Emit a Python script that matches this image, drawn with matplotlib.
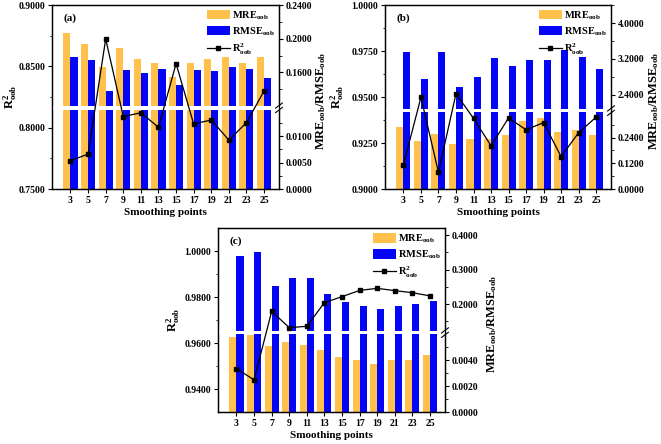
import numpy as np
import matplotlib
matplotlib.use("Agg")
import matplotlib.pyplot as plt
from matplotlib.ticker import FixedLocator, FormatStrFormatter

plt.rcParams['font.family'] = ['Liberation Serif', 'DejaVu Serif']
plt.rcParams['font.weight'] = 'bold'
plt.rcParams['mathtext.fontset'] = 'custom'
plt.rcParams['mathtext.rm'] = 'Liberation Serif:bold'
plt.rcParams['mathtext.it'] = 'Liberation Serif:bold'
plt.rcParams['mathtext.bf'] = 'Liberation Serif:bold'
plt.rcParams['mathtext.default'] = 'rm'

points = [3, 5, 7, 9, 11, 13, 15, 17, 19, 21, 23, 25]

# Panel (a)
mre_a = [0.2071, 0.1937, 0.1659, 0.1885, 0.1762, 0.1707, 0.1541, 0.1715, 0.1758, 0.1778, 0.1715, 0.1778]
rmse_a = [0.1778, 0.1743, 0.1378, 0.1628, 0.1588, 0.1636, 0.1450, 0.1628, 0.1620, 0.1667, 0.1636, 0.1533]
r2_a = [0.7731, 0.7785, 0.8723, 0.8090, 0.8122, 0.8003, 0.8522, 0.8030, 0.8063, 0.7899, 0.8041, 0.8299]

# Panel (b)
mre_b = [0.288, 0.226, 0.257, 0.210, 0.234, 0.232, 0.254, 0.319, 0.332, 0.266, 0.277, 0.251]
rmse_b = [3.364, 2.754, 3.364, 2.582, 2.806, 3.230, 3.051, 3.185, 3.185, 3.393, 3.245, 2.969]
r2_b = [0.9132, 0.9498, 0.9091, 0.9518, 0.9384, 0.9235, 0.9386, 0.9322, 0.9361, 0.9176, 0.9306, 0.9391]

# Panel (c)
mre_c = [0.00576, 0.00596, 0.00510, 0.00538, 0.00520, 0.00476, 0.00423, 0.00400, 0.00369, 0.00400, 0.00400, 0.00438]
rmse_c = [0.3395, 0.3522, 0.2537, 0.2761, 0.2761, 0.2293, 0.2068, 0.1941, 0.1854, 0.1941, 0.2000, 0.2088]
r2_c = [0.9490, 0.9441, 0.9739, 0.9668, 0.9674, 0.9777, 0.9803, 0.9830, 0.9839, 0.9829, 0.9820, 0.9806]

ORANGE = '#FFC04C'
BLUE = '#0505F5'


def broken_scale(lo, hi, top, flo, fhi):
    def fw(v):
        v = np.asarray(v, float)
        return np.where(v <= lo, v / lo * flo,
                        np.where(v <= hi, flo + (v - lo) / (hi - lo) * (fhi - flo),
                                 fhi + (v - hi) / (top - hi) * (1 - fhi)))

    def inv(f):
        f = np.asarray(f, float)
        return np.where(f <= flo, f / flo * lo,
                        np.where(f <= fhi, lo + (f - flo) / (fhi - flo) * (hi - lo),
                                 hi + (f - fhi) / (1 - fhi) * (top - hi)))
    return fw, inv


panels = [
    dict(label='(a)', rect=[0.0787, 0.5743, 0.3434, 0.4144], mre=mre_a, rmse=rmse_a, r2=r2_a,
         ylim=(0.75, 0.90), lmaj=[0.75, 0.80, 0.85, 0.90], lmin=[0.775, 0.825, 0.875],
         brk=(0.015, 0.12, 0.24, 0.432, 0.451),
         rmaj=[0.0, 0.005, 0.010, 0.16, 0.20, 0.24], rmin=[0.0025, 0.0075, 0.0125, 0.14, 0.18, 0.22],
         lpos=-0.143, rpos=1.155),
    dict(label='(b)', rect=[0.5825, 0.5743, 0.3419, 0.4144], mre=mre_b, rmse=rmse_b, r2=r2_b,
         ylim=(0.90, 1.00), lmaj=[0.90, 0.925, 0.95, 0.975, 1.00], lmin=[0.9125, 0.9375, 0.9625, 0.9875],
         brk=(0.36, 2.08, 4.4, 0.419, 0.433),
         rmaj=[0.0, 0.12, 0.24, 2.4, 3.2, 4.0], rmin=[0.06, 0.18, 0.30, 2.8, 3.6, 4.4],
         lpos=-0.168, rpos=1.162),
    dict(label='(c)', rect=[0.3298, 0.0714, 0.3434, 0.4144], mre=mre_c, rmse=rmse_c, r2=r2_c,
         ylim=(0.93, 1.01), lmaj=[0.94, 0.96, 0.98, 1.00], lmin=[0.95, 0.97, 0.99],
         brk=(0.006, 0.122, 0.42, 0.424, 0.442),
         rmaj=[0.0, 0.002, 0.004, 0.2, 0.3, 0.4], rmin=[0.001, 0.003, 0.005, 0.15, 0.25, 0.35],
         lpos=-0.154, rpos=1.176),
]

fig = plt.figure(figsize=(6.61, 4.44), dpi=100)
x = np.array(points, float)
fs_tick = 7
fs_lab = 8
fs_ylab = 9

for p in panels:
    ax = fig.add_axes(p['rect'])
    ax2 = ax.twinx()
    lo, hi, top, flo, fhi = p['brk']
    fw, inv = broken_scale(lo, hi, top, flo, fhi)
    ax2.set_yscale('function', functions=(fw, inv))
    ax2.set_ylim(0, top)

    b1 = ax2.bar(x - 0.4, p['mre'], width=0.8, color=ORANGE, zorder=2)
    b2 = ax2.bar(x + 0.4, p['rmse'], width=0.8, color=BLUE, zorder=2)
    ax2.axhspan(lo, hi, color='white', zorder=3, lw=0)

    ax.set_zorder(ax2.get_zorder() + 1)
    ax.patch.set_visible(False)
    ln, = ax.plot(x, p['r2'], color='black', lw=0.9, marker='s', ms=3.4, zorder=5)
    ax.set_ylim(*p['ylim'])
    ax.set_xlim(0.9, 26.7)
    ax.set_xticks(points)
    ax.set_xticklabels([str(v) for v in points])

    ax.yaxis.set_major_locator(FixedLocator(p['lmaj']))
    ax.yaxis.set_minor_locator(FixedLocator(p['lmin']))
    ax.yaxis.set_major_formatter(FormatStrFormatter('%.4f'))
    ax2.yaxis.set_major_locator(FixedLocator(p['rmaj']))
    ax2.yaxis.set_minor_locator(FixedLocator(p['rmin']))
    ax2.yaxis.set_major_formatter(FormatStrFormatter('%.4f'))

    for a in (ax, ax2):
        a.tick_params(axis='both', which='major', direction='out', length=3, width=0.8,
                      labelsize=fs_tick, pad=2)
        a.tick_params(axis='both', which='minor', direction='out', length=1.8, width=0.6)
        for s in a.spines.values():
            s.set_linewidth(0.9)
    for t in ax.get_xticklabels() + ax.get_yticklabels() + ax2.get_yticklabels():
        t.set_fontweight('bold')

    ax.set_xlabel('Smoothing points', fontsize=fs_lab, fontweight='bold', labelpad=2)
    ax.set_ylabel('R$^2_{oob}$', fontsize=fs_ylab, fontweight='bold')
    ax2.set_ylabel('MRE$_{oob}$/RMSE$_{oob}$', fontsize=fs_ylab, fontweight='bold')
    ax.yaxis.set_label_coords(p['lpos'], 0.5)
    ax2.yaxis.set_label_coords(p['rpos'], 0.48)

    # break marks on right spine
    ymid = (flo + fhi) / 2
    ax2.add_patch(plt.Rectangle((0.99, flo), 0.03, fhi - flo, transform=ax2.transAxes,
                                color='white', clip_on=False, zorder=10, lw=0))
    for dy in (-0.012, 0.012):
        ax2.plot([0.985, 1.015], [ymid + dy - 0.014, ymid + dy + 0.014], transform=ax2.transAxes,
                 color='black', lw=0.8, clip_on=False, zorder=11)

    ax.text(0.05, 0.93, p['label'], transform=ax.transAxes, fontsize=fs_lab,
            fontweight='bold', va='center', ha='left')
    ax.legend([b1, b2, ln], ['MRE$_{oob}$', 'RMSE$_{oob}$', 'R$^2_{oob}$'],
              loc='upper right', frameon=False, fontsize=7.5, handlelength=2.2,
              handleheight=1.0, labelspacing=0.35, handletextpad=0.2,
              borderaxespad=0.2, borderpad=0.2)

fig.savefig('out.png', dpi=100)
